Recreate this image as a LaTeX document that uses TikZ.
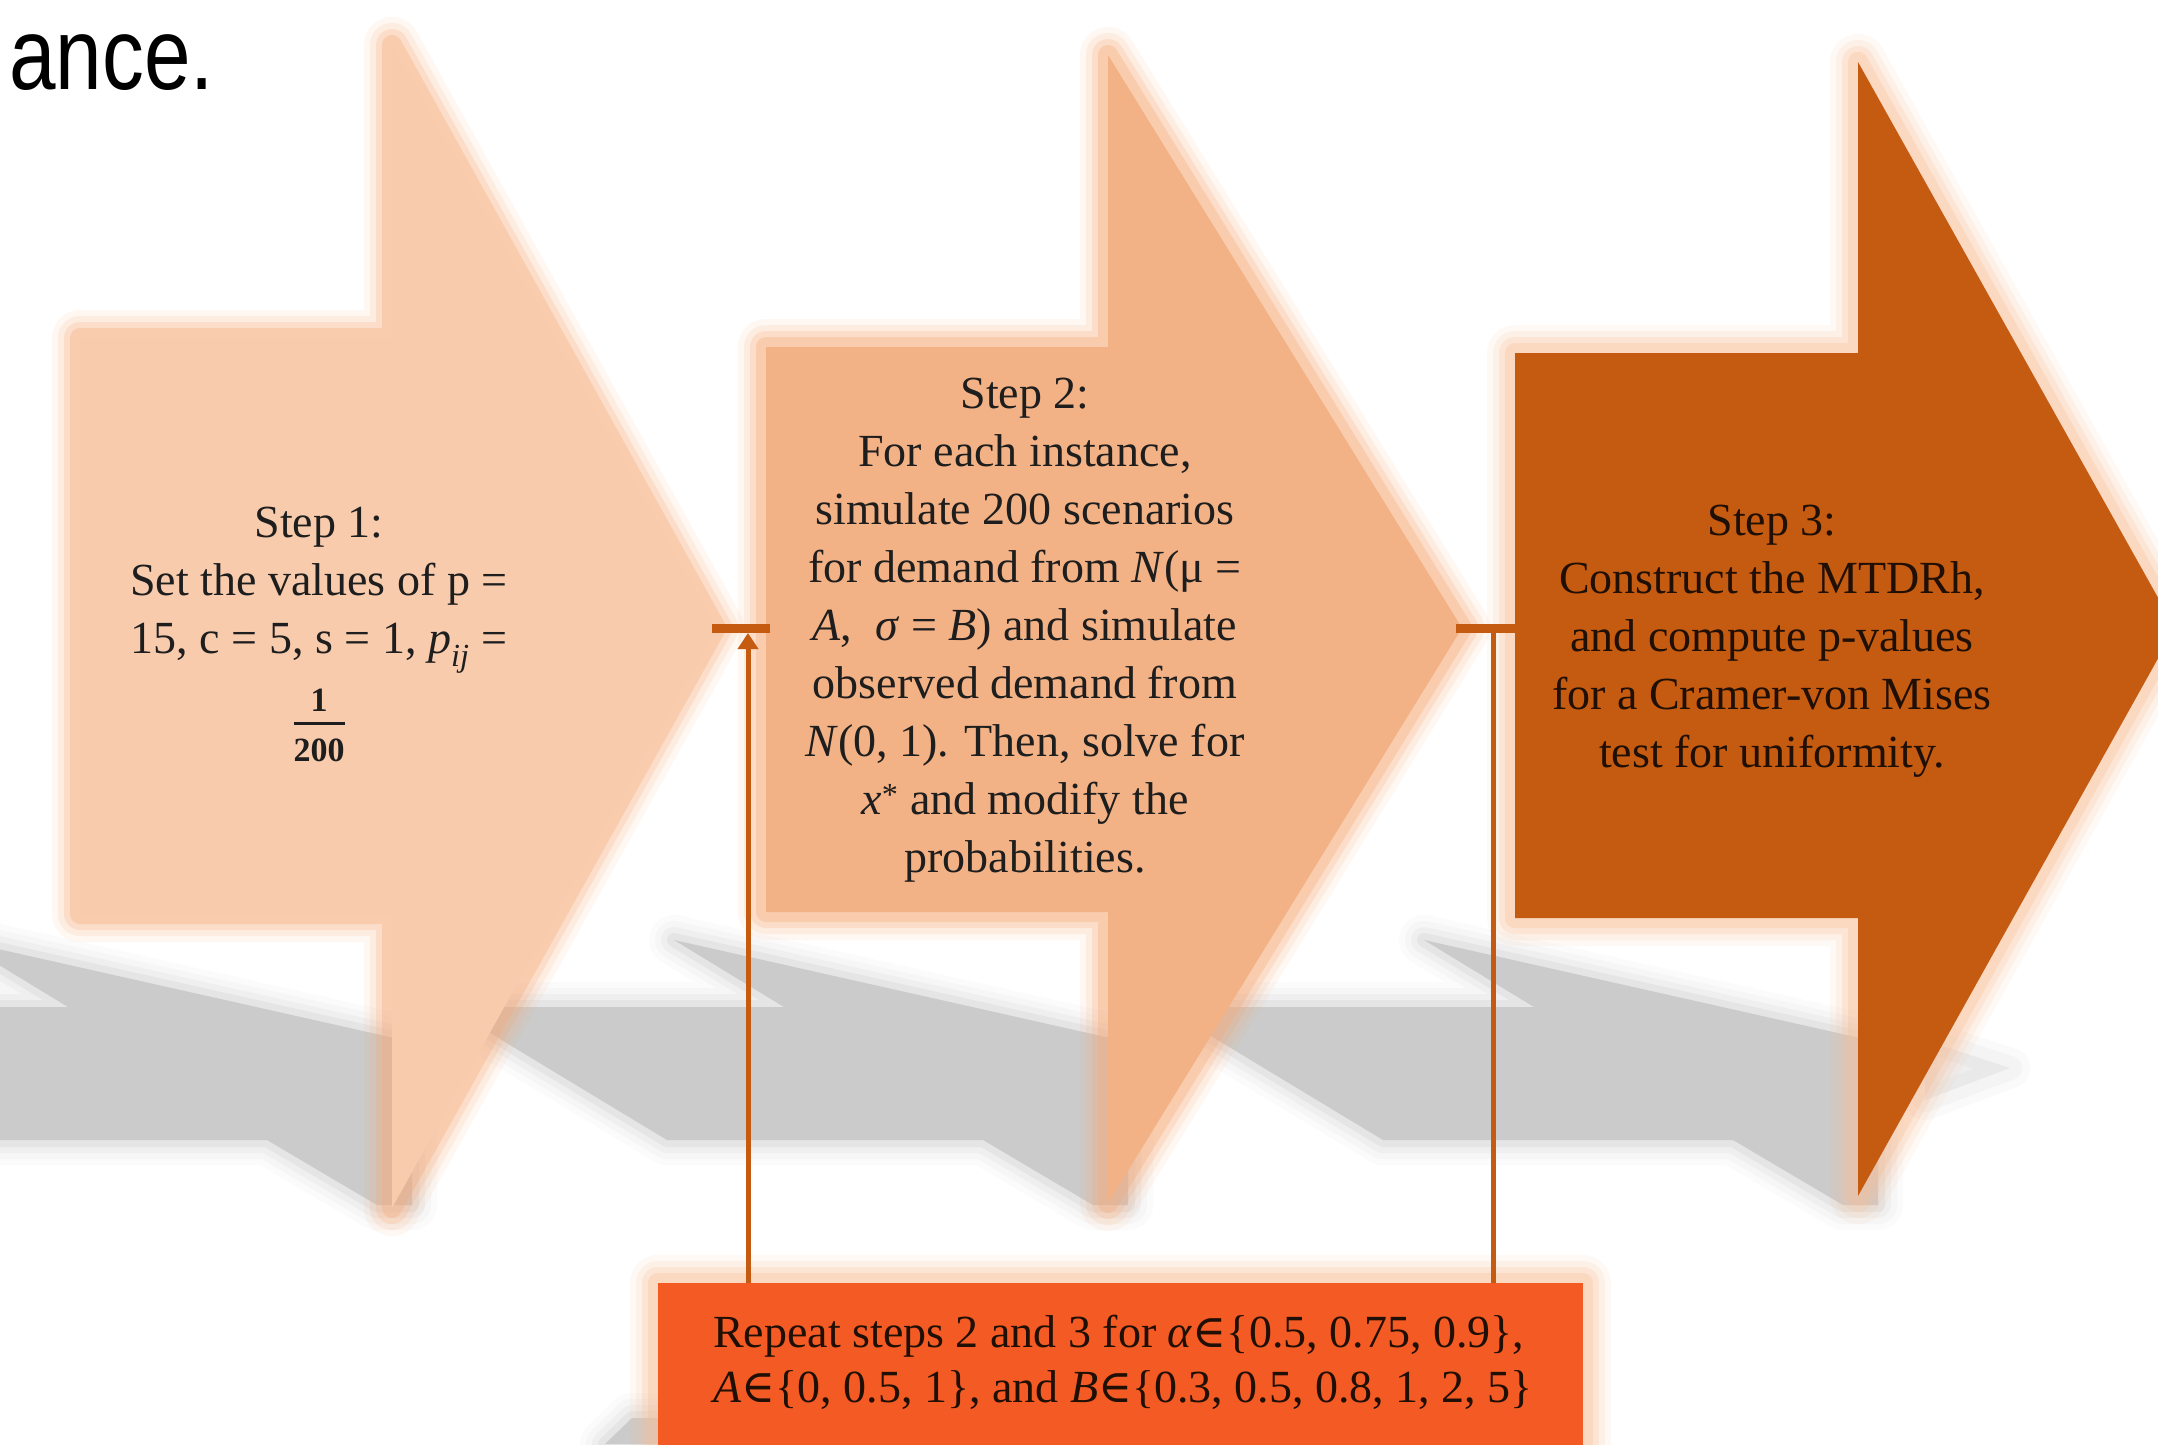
\documentclass[tikz,border=0pt]{standalone}
\usepackage{fontspec}
\setmainfont{Liberation Serif}
\newfontfamily\titlefont{Liberation Sans}
\newfontfamily\symfont{DejaVu Serif}
\usetikzlibrary{arrows.meta}

\definecolor{aoneC}{HTML}{F8CBAD}
\definecolor{atwoC}{HTML}{F3B286}
\definecolor{athreeC}{HTML}{C55A11}
\definecolor{glowC}{HTML}{F7AA78}
\definecolor{glowL}{HTML}{F9BE96}
\definecolor{boxC}{HTML}{F45A23}
\definecolor{lineC}{HTML}{C55A11}
\definecolor{shadowC}{HTML}{CBCBCB}
\definecolor{txtC}{HTML}{1E1E1E}
\definecolor{txtD}{HTML}{1F0F05}

\newcommand\pathA{(80,338) -- (392,338) -- (392,45) -- (716,628) -- (392,1208) -- (392,914) -- (80,914) -- cycle}
\newcommand\pathB{(766,347) -- (1108,347) -- (1108,55) -- (1462,628) -- (1108,1203) -- (1108,912) -- (766,912) -- cycle}
\newcommand\pathC{(1515,353) -- (1858,353) -- (1858,62) -- (2175,628) -- (1858,1196) -- (1858,918) -- (1515,918) -- cycle}
\newcommand\shpath{(-60,1007) -- (68,1007) -- (-42,940) -- (412,1042) -- (412,1205) -- (377,1205) -- (267,1140) -- (-60,1140) -- cycle
 (447,1007) -- (784,1007) -- (674,940) -- (1128,1042) -- (1128,1205) -- (1093,1205) -- (983,1140) -- (667,1140) -- cycle
 (1163,1007) -- (1534,1007) -- (1424,940) -- (1878,1042) -- (1878,1205) -- (1843,1205) -- (1733,1140) -- (1383,1140) -- cycle
 (605,1444) -- (632,1418) -- (662,1418) -- (662,1444) -- cycle}

\newcommand\glowit[2]{%
  \foreach \gw/\go in {56/0.09,44/0.14,32/0.22,20/0.32}{%
    \draw[draw=#1, line width=\gw pt, opacity=\go, line join=round] #2;}}

\tikzset{
  steptxt/.style={align=center, inner sep=0pt, text=txtC, font=\fontsize{46}{58}\selectfont},
  conn/.style={draw=lineC, line width=5pt},
  tbar/.style={draw=lineC, line width=9pt},
}

\begin{document}
\begin{tikzpicture}[x=1pt,y=-1pt]
\useasboundingbox (0,0) rectangle (2158,1444);
\clip (0,0) rectangle (2158,1444);
\fill[white] (0,0) rectangle (2158,1444);

% shadows
\foreach \gw/\go in {50/0.07,38/0.1,26/0.16,14/0.26}{%
  \draw[draw=shadowC, line width=\gw pt, opacity=\go, line join=round] \shpath;}
\fill[shadowC] \shpath;
\foreach \gw/\go in {40/0.08,24/0.12}{%
  \draw[draw=shadowC, line width=\gw pt, opacity=\go, line join=round] (1925,1040) -- (2010,1068) -- (1925,1100) -- cycle;}
\fill[shadowC, opacity=0.25] (1925,1040) -- (2010,1068) -- (1925,1100) -- cycle;

% title fragment
\node[anchor=base east, inner sep=0, font=\titlefont\fontsize{102}{110}\selectfont] (title) at (214,89) {\scalebox{0.82}[1]{ance.}};

% arrows
\glowit{glowC}{\pathA}
\fill[aoneC] \pathA;
\glowit{glowC}{\pathB}
\fill[atwoC] \pathB;
\glowit{glowL}{\pathC}
\fill[athreeC] \pathC;

% bottom box
\glowit{glowL}{(658,1283) rectangle (1583,1483)}
\node[fill=boxC, minimum width=925pt, minimum height=200pt, inner sep=0, anchor=north west] (box) at (658,1283) {};

% texts
\node[steptxt, anchor=north] (s1) at (319,507) {Step 1:\\Set the values of p =\\15, c = 5, s = 1, \textit{p}\textsubscript{\textit{ij}} =\\
{\fontsize{34}{36}\selectfont\bfseries\setlength{\tabcolsep}{0pt}\setlength{\arrayrulewidth}{2.5pt}\begin{tabular}[t]{c}1\\\hline\rule{0pt}{37pt}200\end{tabular}}};

\node[steptxt, anchor=north] (s2) at (1025,378) {Step 2:\\For each instance,\\simulate 200 scenarios\\for demand from \textit{N}(μ =\\\textit{A},\enspace\textit{σ} = \textit{B}) and simulate\\observed demand from\\\textit{N}(0, 1). Then, solve for\\\textit{x}\textsuperscript{*} and modify the\\probabilities.};

\node[steptxt, text=txtD, anchor=north] (s3) at (1772,505) {Step 3:\\Construct the MTDRh,\\and compute p-values\\for a Cramer-von Mises\\test for uniformity.};

\node[anchor=north west, align=left, inner sep=0, text=txtD, font=\fontsize{46}{55}\selectfont] (boxtxt) at (713,1315) {Repeat steps 2 and 3 for \textit{α}{\symfont ∈}\{0.5, 0.75, 0.9\},\\\textit{A}{\symfont ∈}\{0, 0.5, 1\}, and \textit{B}{\symfont ∈}\{0.3, 0.5, 0.8, 1, 2, 5\}};

% connectors
\coordinate (barLw) at (712,628);
\coordinate (barLe) at (770,628);
\coordinate (tipL) at (748,633);
\coordinate (barRw) at (1456,628);
\coordinate (barRe) at (1515,628);
\coordinate (tipR) at (1493,628);
\draw[conn, -{Triangle[length=16pt,width=20pt]}] (box.north -| tipL) -- (tipL);
\draw[conn] (box.north -| tipR) -- (tipR);
\draw[tbar] (barLw) -- (barLe);
\draw[tbar] (barRw) -- (barRe);
\end{tikzpicture}
\end{document}
